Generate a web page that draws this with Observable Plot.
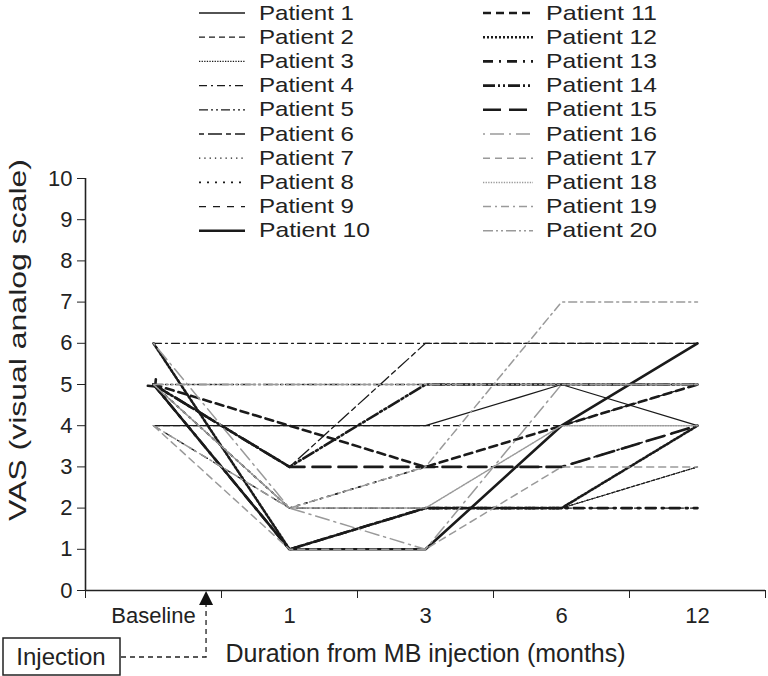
<!DOCTYPE html>
<html><head><meta charset="utf-8">
<script src="https://cdn.jsdelivr.net/npm/d3@7"></script>
<script src="https://cdn.jsdelivr.net/npm/@observablehq/plot@0.6"></script>
<style>
body{margin:0;background:#fff}
#wrap{position:relative;width:768px;height:676px;font-family:"Liberation Sans",Arial,sans-serif;color:#222}
#wrap svg{position:absolute;left:0;top:0}
</style>
</head><body><div id="wrap"></div>
<script>
// ---- data ----
const timepoints = ["Baseline", "1", "3", "6", "12"];
const yTicks = [0, 1, 2, 3, 4, 5, 6, 7, 8, 9, 10];
const patientNames = ["Patient 1","Patient 2","Patient 3","Patient 4","Patient 5","Patient 6","Patient 7","Patient 8","Patient 9","Patient 10",
  "Patient 11","Patient 12","Patient 13","Patient 14","Patient 15","Patient 16","Patient 17","Patient 18","Patient 19","Patient 20"];
const patient1  = [4, 4, 4, 5, 4];
const patient2  = [4, 4, 4, 4, 5];
const patient3  = [6, 1, 2, 2, 3];
const patient4  = [6, 6, 6, 6, 6];
const patient5  = [5, 5, 5, 5, 5];
const patient6  = [5, 3, 6, 6, 6];
const patient7  = [5, 2, 2, 2, 3];
const patient8  = [5, 2, 3, 3, 4];
const patient9  = [4, 2, 2, 2, 2];
const patient10 = [5, 1, 1, 4, 6];
const patient11 = [5, 4, 3, 4, 5];
const patient12 = [6, 1, 2, 2, 4];
const patient13 = [5, 1, 2, 2, 2];
const patient14 = [5, 3, 5, 5, 5];
const patient15 = [5, 3, 3, 3, 4];
const patient16 = [6, 2, 1, 5, 5];
const patient17 = [4, 1, 1, 3, 3];
const patient18 = [5, 2, 2, 4, 4];
const patient19 = [4, 2, 3, 7, 7];
const patient20 = [5, 5, 5, 5, 5];
const series = [patient1,patient2,patient3,patient4,patient5,patient6,patient7,patient8,patient9,patient10,
  patient11,patient12,patient13,patient14,patient15,patient16,patient17,patient18,patient19,patient20];

// ---- styles ----
const BLK = "#1a1a1a", GRY = "#9a9a9a";
const lineColor = [BLK,BLK,BLK,BLK,BLK,BLK,BLK,BLK,BLK,BLK, BLK,BLK,BLK,BLK,BLK,GRY,GRY,GRY,GRY,GRY];
const lineWidth = [1.3,1.3,1.2,1.3,1.3,1.3,1.3,1.8,1.3,2.6, 2.6,2.6,2.6,2.6,2.6,1.5,1.5,1.5,1.5,1.5];
const lineDash = ["none","6,4","1.3,1.3","8,4,2,4","9,3,2,3,2,3","5,4,14,4","1.3,4","2,6","7,7","none",
  "8,5","2,2","10,6,2,6","12,3,2,3,2,3","18,8","2,5,14,5","7,5","1.3,1.3","8,4,2,4","10,3,2,3,2,3"];
const FONT = "'Liberation Sans', Arial, sans-serif";

const rows = [];
series.forEach((s, p) => s.forEach((v, i) => rows.push({p, name: patientNames[p], t: i, v})));

const W = 768, H = 676;
const mL = 85, mR = 3, mT = 178, mB = 86;

const marks = [
  Plot.ruleY([0], {stroke: "#222", strokeWidth: 1.6}),
  Plot.ruleX([-0.5], {stroke: "#222", strokeWidth: 1.6}),
  Plot.axisY({ticks: yTicks, tickSize: 8, tickPadding: 5, label: null, fontSize: 22, stroke: "#222"}),
  Plot.axisX({ticks: [-0.5, 0.5, 1.5, 2.5, 3.5, 4.5], tickFormat: () => "", tickSize: 8, label: null, stroke: "#222"}),
  Plot.axisX({ticks: [0, 1, 2, 3, 4], tickFormat: i => timepoints[i], tickSize: 0, tickPadding: 17, label: null, fontSize: 22}),
  Plot.text(["Duration from MB injection (months)"], {frameAnchor: "bottom", dy: 71, fontSize: 25, fill: "#222"})
];
series.forEach((s, p) => {
  marks.push(Plot.line(rows.filter(d => d.p === p), {
    x: "t", y: "v", stroke: lineColor[p], strokeWidth: lineWidth[p],
    strokeDasharray: lineDash[p], markerStart: p === 9 ? "arrow" : undefined
  }));
});

const chart = Plot.plot({
  width: W, height: H,
  marginLeft: mL, marginRight: mR, marginTop: mT, marginBottom: mB,
  style: {fontSize: "22px", fontFamily: FONT, color: "#222", background: "white"},
  x: {type: "linear", domain: [-0.5, 4.5], axis: null},
  y: {domain: [0, 10], axis: null},
  marks
});
document.getElementById("wrap").appendChild(chart);

// ---- annotations ----
const xs = chart.scale("x"), ys = chart.scale("y");
const svg = d3.select(chart);
const y0 = ys.apply(0);
svg.append("text").attr("transform", `translate(26,${(ys.apply(10) + y0) / 2 - 44}) rotate(-90)`)
  .attr("text-anchor", "middle").attr("font-size", 24).attr("font-family", FONT).attr("fill", "#222")
  .attr("textLength", 362).attr("lengthAdjust", "spacingAndGlyphs")
  .text("VAS (visual analog scale)");
const ax = xs.apply(-0.5) + (xs.apply(0.5) - xs.apply(-0.5)) * 0.89;
const ann = svg.append("g");
ann.append("rect").attr("x", 3).attr("y", 638).attr("width", 117).attr("height", 37)
  .attr("fill", "white").attr("stroke", "#222").attr("stroke-width", 1.5);
ann.append("text").attr("x", 61).attr("y", 665).attr("text-anchor", "middle")
  .attr("font-size", 24).attr("font-family", FONT).attr("fill", "#222").text("Injection");
ann.append("path").attr("d", `M121,657H${ax}V${y0 + 14}`).attr("fill", "none")
  .attr("stroke", "#222").attr("stroke-width", 1.3).attr("stroke-dasharray", "5,4");
ann.append("path").attr("d", `M${ax},${y0 + 1}L${ax - 7},${y0 + 15}L${ax + 7},${y0 + 15}Z`).attr("fill", "#111");

// ---- legend ----
const leg = d3.select("#wrap").append("svg").attr("width", W).attr("height", 245)
  .style("pointer-events", "none");
patientNames.forEach((n, p) => {
  const col = p < 10 ? 0 : 1, r = p % 10;
  const cy = 12 + r * 24.2;
  const lx0 = col ? 483 : 199, lx1 = col ? 533 : 245, tx = col ? 546 : 259;
  leg.append("line").attr("x1", lx0).attr("x2", lx1).attr("y1", cy + 1).attr("y2", cy + 1)
    .attr("stroke", lineColor[p]).attr("stroke-width", lineWidth[p])
    .attr("stroke-dasharray", lineDash[p] === "none" ? null : lineDash[p]);
  leg.append("text").attr("x", tx).attr("y", cy + 7.5).attr("font-size", 21)
    .attr("font-family", FONT).attr("fill", "#222")
    .attr("textLength", n.length > 9 ? 111 : 95).attr("lengthAdjust", "spacingAndGlyphs")
    .text(n);
});
</script>
</body></html>
